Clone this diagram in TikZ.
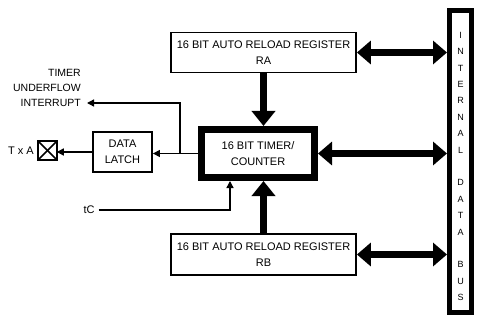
\documentclass[tikz,border=0pt]{standalone}
\usepackage{fontspec}
\setmainfont{Liberation Sans}
\usetikzlibrary{arrows.meta}

\tikzset{
    regbox/.style={draw, line width=1.8pt, inner sep=0pt, align=center,
        minimum width=185pt, minimum height=40pt},
    cntbox/.style={draw, line width=7pt, inner sep=0pt, align=center,
        minimum width=113pt, minimum height=48pt},
    latchbox/.style={draw, line width=1.8pt, inner sep=0pt, align=center,
        minimum width=59pt, minimum height=40pt},
    pinbox/.style={draw, line width=2.4pt, outer sep=0pt, minimum size=18.5pt},
    busbox/.style={draw, line width=5pt, inner sep=0pt,
        minimum width=22pt, minimum height=302pt},
    bustext/.style={align=center, inner sep=0pt,
        font=\fontsize{9}{16.4}\selectfont},
    bigarrow/.style={line width=7pt, -{Triangle[width=23pt,length=15pt]}},
    busarrow/.style={line width=6.5pt,
        {Triangle[width=23pt,length=14pt]}-{Triangle[width=23pt,length=14pt]}},
    sigarrow/.style={line width=1.3pt, -{Triangle[width=7pt,length=7pt]}}
}

\begin{document}
\begin{tikzpicture}[x=1pt, y=-1pt, font=\fontsize{11}{16}\selectfont]
        \useasboundingbox (0,0) rectangle (495,326);

        % registers and counter
        \node[regbox] at (263.5,52.5) (ra) {16 BIT AUTO RELOAD REGISTER\\RA};
        \node[regbox, minimum height=41pt] at (263.5,254.5) (rb) {16 BIT AUTO RELOAD REGISTER\\RB};
        \node[cntbox] at (258,153.5) (cnt) {16 BIT TIMER/\\COUNTER};
        \draw[bigarrow] (ra.south) -- (ra.south |- cnt.north);
        \draw[bigarrow] (rb.north) -- (rb.north |- cnt.south);

        % internal data bus
        \node[busbox] at (460.5,161.5) (bus) {};
        \node[bustext] at ([yshift=-5pt]bus.center) (buslabel)
            {I\\N\\T\\E\\R\\N\\A\\L\\[16.4pt]D\\A\\T\\A\\[16.4pt]B\\U\\S};
        \draw[busarrow] (ra.east) -- (ra.east -| bus.west);
        \draw[busarrow] (cnt.east) -- (cnt.east -| bus.west);
        \draw[busarrow] (rb.east) -- (rb.east -| bus.west);

        % output side
        \node[latchbox] at (122.5,152) (latch) {DATA\\LATCH};
        \node[pinbox] at (47.5,150.5) (txa) {};
        \draw[line width=1.6pt] (txa.north west) -- (txa.south east);
        \draw[line width=1.6pt] (txa.south west) -- (txa.north east);
        \node[anchor=east, inner sep=0pt] at (34,150.5) (txalabel) {T x A};
        \draw[sigarrow] (cnt.west) -- (cnt.west -| latch.east);
        \draw[sigarrow] (latch.west) -- (latch.west -| txa.east);

        % interrupt
        \node[anchor=east, align=right, inner sep=0pt, font=\fontsize{10.5}{15}\selectfont]
            at (81,88) (irqtext) {TIMER\\UNDERFLOW\\INTERRUPT};
        \coordinate (tap) at (180,153);
        \coordinate (irq) at (87,103);
        \draw[sigarrow] (tap) |- (irq);

        % clock input
        \node[inner sep=0pt] at (89,210) (tc) {tC};
        \draw[sigarrow] ([xshift=4pt]tc.east) -| ([xshift=-28pt]cnt.south);
    \end{tikzpicture}
\end{document}
